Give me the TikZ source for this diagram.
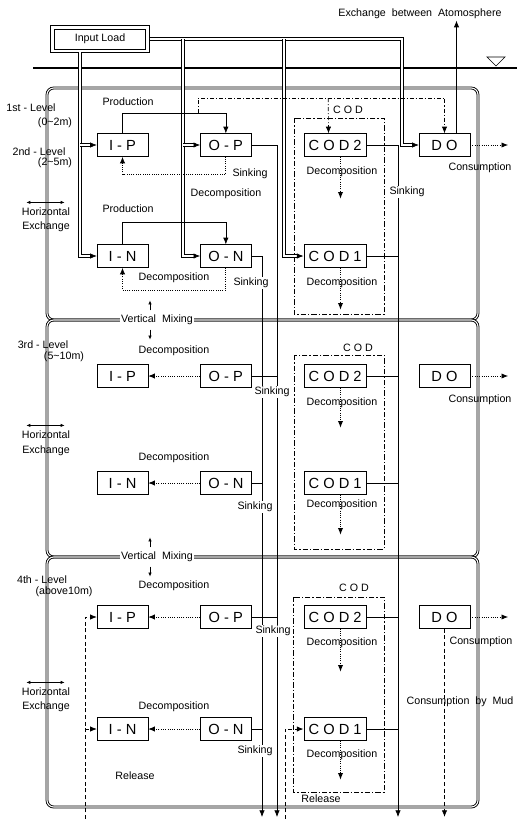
\documentclass[tikz,border=0pt]{standalone}
\usepackage{fontspec}
\setmainfont{Liberation Sans}
\usepackage{tikz}
\usetikzlibrary{arrows.meta, positioning, calc}
\tikzset{
    box/.style={rectangle, draw, minimum width=38pt, minimum height=17pt, inner sep=1pt, font=\fontsize{11}{12}\selectfont},
    codbox/.style={box, minimum width=47pt},
    lbl/.style={inner sep=1pt, font=\fontsize{8}{9.5}\selectfont},
    arrow/.style={-{Latex[length=5pt,width=4pt]}},
    small/.style={-{Latex[length=3pt,width=2.5pt]}},
    both/.style={{Latex[length=3pt,width=2.5pt]}-{Latex[length=3pt,width=2.5pt]}},
    dbl/.style={double, double distance=1.3pt},
    level/.style={line width=0.65pt, double, double distance=0.8pt, rounded corners=5pt},
    codframe/.style={semithick, dash pattern=on 4pt off 1.5pt on 1pt off 1.5pt},
    dashdot/.style={dash pattern=on 3pt off 1.5pt on 0.8pt off 1.5pt},
    dots/.style={densely dotted, line width=0.7pt},
    rel/.style={densely dashed, semithick}
}
\begin{document}
\begin{tikzpicture}[x=0.75pt, y=-0.75pt, node distance=39pt, line width=0.5pt]
    \useasboundingbox (0,0) rectangle (517,819);

    % surface
    \node (atm) [lbl] at (420,14) {Exchange \ between \ Atomosphere};
    \node (load) [lbl, draw, minimum width=68pt, minimum height=15pt] at (100,39) {Input Load};
    \draw ([shift={(-4,-3)}]load.north west) rectangle ([shift={(4,3)}]load.south east);
    \draw [line width=1.3pt] (33,68) -- (517,68);
    \draw (487,57) -- (505,57) -- (496,66) -- cycle;

    % level frames
    \draw [level] (47,88) rectangle (478,320);
    \draw [level] (47,320) rectangle (478,557);
    \draw [level] (47,557) rectangle (478,807);
    \node (vm1) [lbl, fill=white] at (157,320) {Vertical \ Mixing};
    \node (vm2) [lbl, fill=white] at (157,557) {Vertical \ Mixing};
    \draw [small] ([shift={(-7,-3)}]vm1.north) -- ++(0,-10);
    \draw [small] ([shift={(-7,3)}]vm1.south) -- ++(0,10);
    \draw [small] ([shift={(-7,-3)}]vm2.north) -- ++(0,-10);
    \draw [small] ([shift={(-7,3)}]vm2.south) -- ++(0,10);

    \node (lv1) [lbl] at (31,108) {1st - Level};
    \node (dp1) [lbl] at (55,123) {(0\textasciitilde2m)};
    \node (lv2) [lbl] at (39,152) {2nd - Level};
    \node (dp2) [lbl] at (55,163) {(2\textasciitilde5m)};
    \node (lv3) [lbl] at (43,345) {3rd - Level};
    \node (dp3) [lbl] at (64,357) {(5\textasciitilde10m)};
    \node (lv4) [lbl] at (42,580) {4th - Level};
    \node (dp4) [lbl] at (64,592) {(above10m)};

    \node (hz1) [lbl] at (46,212) {Horizontal};
    \node (ex1) [lbl] at (46,227) {Exchange};
    \node (hz2) [lbl] at (46,435) {Horizontal};
    \node (ex2) [lbl] at (46,451) {Exchange};
    \node (hz3) [lbl] at (46,692) {Horizontal};
    \node (ex3) [lbl] at (46,707) {Exchange};
    \draw [both] ([shift={(6,-4)}]hz1.north west) -- ([shift={(-7,-4)}]hz1.north east);
    \draw [both] ([shift={(6,-4)}]hz2.north west) -- ([shift={(-7,-4)}]hz2.north east);
    \draw [both] ([shift={(6,-4)}]hz3.north west) -- ([shift={(-7,-4)}]hz3.north east);

    % COD groups
    \draw [codframe] (294,118) rectangle (384,314);
    \draw [codframe] (294,355) rectangle (384,549);
    \draw [codframe] (293,597) rectangle (384,792);
    \node (cl1) [lbl] at (348,110) {C O D};
    \node (cl2) [lbl] at (358,348) {C O D};
    \node (cl3) [lbl] at (354,588) {C O D};

    % 1st and 2nd level
    \node (ip1) [box] at (122.5,145) {I - P};
    \node (op1) [box, right=of ip1] {O - P};
    \node (cod2a) [codbox, right=of op1] {C O D 2};
    \node (do1) [box, right=of cod2a] {D O};
    \node (in1) [box] at (122.5,256) {I - N};
    \node (on1) [box, right=of in1] {O - N};
    \node (cod1a) [codbox, right=of on1] {C O D 1};

    % 3rd level
    \node (ip2) [box] at (122.5,376) {I - P};
    \node (op2) [box, right=of ip2] {O - P};
    \node (cod2b) [codbox, right=of op2] {C O D 2};
    \node (do2) [box, right=of cod2b] {D O};
    \node (in2) [box] at (122.5,483) {I - N};
    \node (on2) [box, right=of in2] {O - N};
    \node (cod1b) [codbox, right=of on2] {C O D 1};

    % 4th level
    \node (ip3) [box] at (122.5,617) {I - P};
    \node (op3) [box, right=of ip3] {O - P};
    \node (cod2c) [codbox, right=of op3] {C O D 2};
    \node (do3) [box, right=of cod2c] {D O};
    \node (in3) [box] at (122.5,729) {I - N};
    \node (on3) [box, right=of in3] {O - N};
    \node (cod1c) [codbox, right=of on3] {C O D 1};

    % input load
    \coordinate (tA) at (80,0);
    \coordinate (tB) at (183,0);
    \coordinate (tC) at (284,0);
    \coordinate (tD) at (402,0);
    \draw [dbl, arrow] ([xshift=3pt]load.east) -| (tD |- do1.west) -- (do1.west);
    \draw [dbl, arrow] ([yshift=-2pt]load.south -| tA) |- (in1.west);
    \draw [dbl, arrow] (tA |- ip1.west) -- (ip1.west);
    \draw [dbl, arrow] (load.east -| tB) |- (on1.west);
    \draw [dbl, arrow] (tB |- op1.west) -- (op1.west);
    \draw [dbl, arrow] (load.east -| tC) |- (cod1a.west);
    \draw [arrow] ([xshift=9pt]do1.north) -- ([xshift=9pt]do1.north |- atm.south);

    % production
    \coordinate (prodP) at (0,113);
    \coordinate (prodN) at (0,222);
    \coordinate (oxy) at (198,98);
    \draw [arrow] (ip1.north) -- (ip1.north |- prodP) -| (op1.north);
    \draw [arrow] (in1.north) -- (in1.north |- prodN) -| (on1.north);
    \draw [dashdot, arrow] (oxy |- prodP) -- (oxy) -| (do1.north);
    \draw [dashdot, arrow] (oxy -| cod2a.north) ++(-7,0) -- ([xshift=-5pt]cod2a.north);
    \node (pr1) [lbl] at (128,102) {Production};
    \node (pr2) [lbl] at (128,209) {Production};

    % decomposition
    \coordinate (decP) at (0,174);
    \coordinate (decN) at (0,290);
    \draw [dots, arrow] (op1.south) -- (op1.south |- decP) -| (ip1.south);
    \draw [dots, arrow] (on1.south) -- (on1.south |- decN) -| (in1.south);
    \draw [dots, arrow] (op2.west) -- (ip2.east);
    \draw [dots, arrow] (on2.west) -- (in2.east);
    \draw [dots, arrow] (op3.west) -- (ip3.east);
    \draw [dots, arrow] (on3.west) -- (in3.east);
    \draw [dots, arrow] ([xshift=4pt]cod2a.south) -- ++(0,42);
    \draw [dots, arrow] ([xshift=4pt]cod1a.south) -- ++(0,42);
    \draw [dots, arrow] ([xshift=4pt]cod2b.south) -- ++(0,40);
    \draw [dots, arrow] ([xshift=4pt]cod1b.south) -- ++(0,40);
    \draw [dots, arrow] ([xshift=4pt]cod2c.south) -- ++(0,43);
    \draw [dots, arrow] ([xshift=4pt]cod1c.south) -- ++(0,39);
    \node (dc1) [lbl] at (226,194) {Decomposition};
    \node (dc2) [lbl] at (174,278) {Decomposition};
    \node (dc3) [lbl] at (174,351) {Decomposition};
    \node (dc4) [lbl] at (174,458) {Decomposition};
    \node (dc5) [lbl] at (174,586) {Decomposition};
    \node (dc6) [lbl] at (174,707) {Decomposition};
    \node (dc7) [lbl] at (342,172) {Decomposition};
    \node (dc8) [lbl] at (342,283) {Decomposition};
    \node (dc9) [lbl] at (342,403) {Decomposition};
    \node (dc10) [lbl] at (342,505) {Decomposition};
    \node (dc11) [lbl] at (342,643) {Decomposition};
    \node (dc12) [lbl] at (342,755) {Decomposition};

    % sinking
    \coordinate (sinkP) at (277,817);
    \coordinate (sinkN) at (262,817);
    \coordinate (sinkC) at (398,817);
    \draw [arrow] (op1.east) -| (sinkP);
    \draw [arrow] (on1.east) -| (sinkN);
    \draw [arrow] (cod2a.east) -| (sinkC);
    \draw (cod1a.east) -- (cod1a.east -| sinkC);
    \draw (op2.east) -- (op2.east -| sinkP);
    \draw (on2.east) -- (on2.east -| sinkN);
    \draw (cod2b.east) -- (cod2b.east -| sinkC);
    \draw (cod1b.east) -- (cod1b.east -| sinkC);
    \draw (op3.east) -- (op3.east -| sinkP);
    \draw (on3.east) -- (on3.east -| sinkN);
    \draw (cod2c.east) -- (cod2c.east -| sinkC);
    \draw (cod1c.east) -- (cod1c.east -| sinkC);
    \node (sk1) [lbl, fill=white] at (250,174) {Sinking};
    \node (sk2) [lbl, fill=white] at (251,283) {Sinking};
    \node (sk3) [lbl, fill=white] at (407,192) {Sinking};
    \node (sk4) [lbl, fill=white] at (272,392) {Sinking};
    \node (sk5) [lbl, fill=white] at (255,507) {Sinking};
    \node (sk6) [lbl, fill=white] at (273,631) {Sinking};
    \node (sk7) [lbl, fill=white] at (255,751) {Sinking};

    % consumption
    \draw [dots, arrow] (do1.east) -- ++(38,0);
    \draw [dots, arrow] (do2.east) -- ++(38,0);
    \draw [dots, arrow] (do3.east) -- ++(38,0);
    \draw [rel, arrow] (do3.south) -- (do3.south |- sinkC);
    \node (cs1) [lbl] at (480,168) {Consumption};
    \node (cs2) [lbl] at (480,400) {Consumption};
    \node (cs3) [lbl] at (481,642) {Consumption};
    \node (cs4) [lbl] at (460,702) {Consumption \ by \ Mud};

    % release
    \coordinate (relA) at (85,819);
    \coordinate (relB) at (285,819);
    \draw [rel, arrow] (relA) |- (ip3.west);
    \draw [rel, arrow] (relA |- in3.west) -- (in3.west);
    \draw [rel, arrow] (relB) |- (cod1c.west);
    \node (rl1) [lbl] at (135,776) {Release};
    \node (rl2) [lbl] at (321,799) {Release};
\end{tikzpicture}
\end{document}
